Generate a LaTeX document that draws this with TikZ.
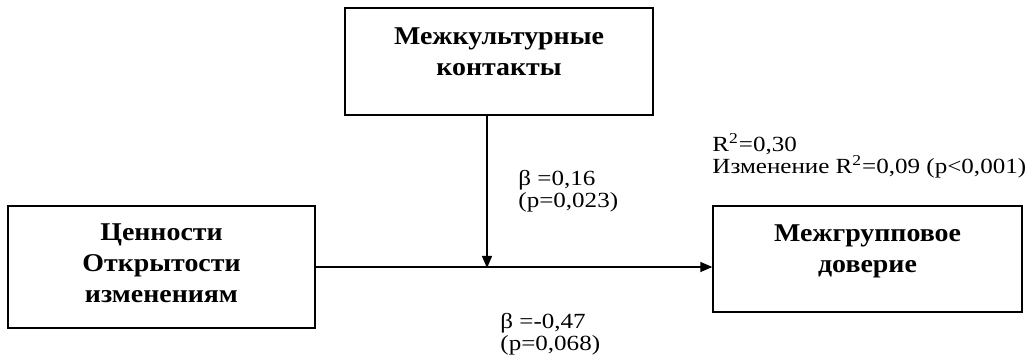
\documentclass[tikz,border=0pt]{standalone}
\usepackage{fontspec}
\setmainfont{Liberation Serif}
\newfontfamily\boxfont[FakeStretch=1.09]{Liberation Serif}
\newfontfamily\statfont[FakeStretch=1.16]{Liberation Serif}
\usetikzlibrary{arrows,arrows.meta}
\usetikzlibrary{positioning,calc}
\tikzset{box/.style={rectangle,draw,line width=0.7pt,inner sep=0pt},
		boxText/.style={align=center,inner sep=0pt,
		                font=\boxfont\fontsize{12.8}{15.5}\selectfont\bfseries},
		stat/.style={align=left,anchor=north west,inner sep=0pt,
		             font=\statfont\fontsize{10.8}{11}\selectfont},
		Dedge/.style={-{Triangle[length=6pt,width=5pt]},line width=0.7pt}}

\begin{document}
\begin{tikzpicture}[x=0.5pt,y=0.5pt]
\useasboundingbox (0,0) rectangle (1036,363);
% boxes
\node[box,minimum width=153.5pt,minimum height=61pt] (values) at (161.5,96) {};
\node[box,minimum width=154pt,minimum height=53.5pt] (contacts) at (499,301.5) {};
\node[box,minimum width=154.5pt,minimum height=53pt] (trust) at (867.5,104) {};
\node[boxText,below=9pt of values.north] (valuesText) {Ценности\\Открытости\\изменениям};
\node[boxText,below=10pt of contacts.north] (contactsText) {Межкультурные\\контакты};
\node[boxText,below=9.5pt of trust.north] (trustText) {Межгрупповое\\доверие};
% arrows
\coordinate (meet) at (487,95);
\draw[Dedge] (values.east) -- (values.east -| trust.west);
\draw[Dedge] (meet |- contacts.south) -- (meet);
% coefficients
\node[stat] (betaMod) at (518,193) {β =0,16\\(p=0,023)};
\node[stat] (betaMain) at (500,50) {β =-0,47\\(p=0,068)};
\node[stat] (rsq) at (712,230) {R\textsuperscript{2}=0,30\\Изменение R\textsuperscript{2}=0,09 (p<0,001)};
\end{tikzpicture}
\end{document}
